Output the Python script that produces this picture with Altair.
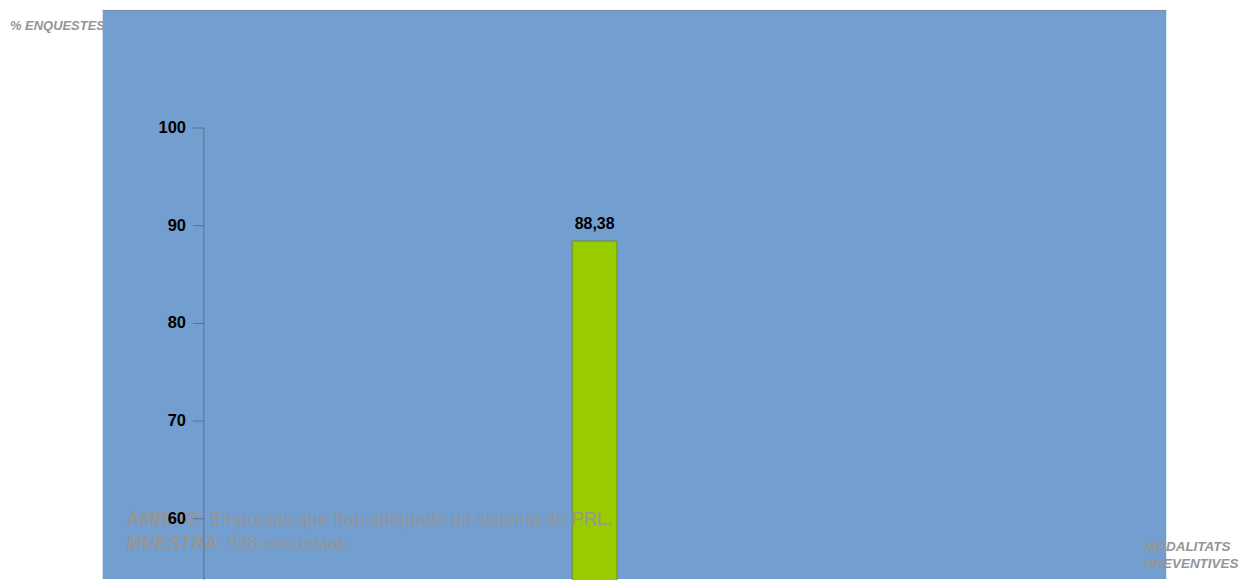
import altair as alt
import pandas as pd

# ---- data ----
categories = ["Servei de prevenció aliè"]
values = [88.38]
y_ticks = [0, 10, 20, 30, 40, 50, 60, 70, 80, 90, 100]

y_title = "% ENQUESTES"
x_title = ["MODALITATS", "PREVENTIVES"]
ambito_key = "ÁMBITO"
ambito_txt = ": Empresas que han adoptado un sistema de PRL."
muestra_key = "MUESTRA"
muestra_txt = ": 938 encuestas"

df = pd.DataFrame({"cat": categories, "val": values})

SANS = "Liberation Sans, Arial, sans-serif"
GREY = "#959595"

W, H = 1067, 571
YSCALE = alt.Scale(domain=[0, 100], range=[1098, 118], nice=False)

base = alt.Chart(df)

xenc = alt.X("cat:N", axis=None, scale=alt.Scale(range=[103, 884]))
yenc = alt.Y(
    "val:Q",
    scale=YSCALE,
    axis=alt.Axis(
        values=y_ticks, title=None, grid=False, offset=-101, zindex=1,
        domainColor="#5a6f8c", tickColor="#5a6f8c", tickSize=11,
        labelFont=SANS, labelFontSize=16.5, labelFontWeight="bold",
        labelColor="#000000", labelPadding=7,
    ),
)

bars = base.mark_bar(size=45, color="#99cc00", stroke="#6b8e23", strokeWidth=1).encode(x=xenc, y=yenc)

labels = base.transform_calculate(
    lbl="replace(format(datum.val, '.2f'), '.', ',')"
).mark_text(font=SANS, fontSize=16, fontWeight="bold", color="#000000", dy=-12,
            baseline="alphabetic").encode(x=xenc, y=alt.Y("val:Q", scale=YSCALE),
                                          text="lbl:N")

top_rule = base.mark_rule(color="#8090a8", strokeWidth=1).encode(
    x=alt.value(0), x2=alt.value(W), y=alt.value(0.5))


def txt(s, x, y, size, weight="normal", style="normal", font=SANS):
    d = pd.DataFrame({"t": [s]})
    return alt.Chart(d).mark_text(
        font=font, fontSize=size, fontWeight=weight, fontStyle=style,
        color=GREY, align="left", baseline="alphabetic"
    ).encode(x=alt.value(x), y=alt.value(y), text="t:N")


ytitle = txt(y_title, -93, 20, 13, "bold", "italic")
xtitle = alt.Chart(pd.DataFrame({"t": [x_title]})).mark_text(
    font=SANS, fontSize=13.5, fontWeight="bold", fontStyle="italic", color=GREY,
    align="left", baseline="alphabetic", lineHeight=17
).encode(x=alt.value(1045), y=alt.value(543), text="t")

a1 = txt(ambito_key, 24, 517, 18.5, "bold", "italic")
a2 = txt(ambito_txt, 97, 517, 18.5)
m1 = txt(muestra_key, 24, 541, 18.5, "bold", "italic")
m2 = txt(muestra_txt, 115, 541, 18.5)

chart = alt.layer(top_rule, bars, labels, ytitle, xtitle, a1, a2, m1, m2).properties(
    width=W, height=H,
    autosize=alt.AutoSizeParams(type="none"),
    padding={"left": 95, "top": 1, "right": 78, "bottom": 0},
    background="#ffffff",
).configure_view(fill="#729fcf", strokeWidth=0)

chart.save("out.html", embed_options={"renderer": "svg", "actions": False})
